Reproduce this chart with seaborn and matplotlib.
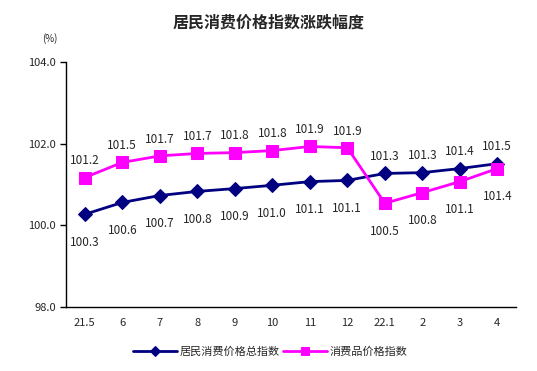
import numpy as np
import pandas as pd
import matplotlib
matplotlib.use('Agg')
import matplotlib.pyplot as plt
import seaborn as sns

# Data
months = ['21.5', '6', '7', '8', '9', '10', '11', '12', '22.1', '2', '3', '4']
cpi_total = [100.3, 100.6, 100.7, 100.8, 100.9, 101.0, 101.1, 101.1, 101.3, 101.3, 101.4, 101.5]
cpi_goods = [101.2, 101.5, 101.7, 101.7, 101.8, 101.8, 101.9, 101.9, 100.5, 100.8, 101.1, 101.4]
# plotted positions are a touch off the printed labels
total_pos = [100.27, 100.56, 100.73, 100.83, 100.9, 100.98, 101.07, 101.1, 101.27, 101.29, 101.39, 101.51]
goods_pos = [101.17, 101.54, 101.7, 101.76, 101.78, 101.83, 101.93, 101.9, 100.54, 100.8, 101.07, 101.39]
y_ticks = [98.0, 100.0, 102.0, 104.0]

sns.set_style('white')
plt.rcParams['font.family'] = ['Noto Sans CJK SC', 'DejaVu Sans']

navy = '#000080'
pink = '#ff00ff'

df = pd.DataFrame({'idx': np.arange(len(months)), 'total': total_pos, 'goods': goods_pos})

fig = plt.figure(figsize=(5.37, 3.71), dpi=100)
ax = fig.add_axes([0.123, 0.1725, 0.838, 0.6605])

sns.lineplot(data=df, x='idx', y='total', ax=ax, color=navy, marker='D', markersize=7,
             linewidth=2, markeredgecolor=navy, label='居民消费价格总指数')
sns.lineplot(data=df, x='idx', y='goods', ax=ax, color=pink, marker='s', markersize=8,
             linewidth=2, markeredgecolor=pink, label='消费品价格指数')

# value labels
for i in range(len(months)):
    if i < 8:
        t_off, g_off = -20, 12
    else:
        t_off, g_off = 12, -20
    ax.annotate(f'{cpi_total[i]:.1f}', (i, total_pos[i]), xytext=(0, t_off),
                textcoords='offset points', ha='center', va='center', fontsize=8.5)
    ax.annotate(f'{cpi_goods[i]:.1f}', (i, goods_pos[i]), xytext=(0, g_off),
                textcoords='offset points', ha='center', va='center', fontsize=8.5)

ax.set_xlim(-0.5, len(months) - 0.5)
ax.set_ylim(98, 104)
ax.set_yticks(y_ticks)
ax.set_yticklabels([f'{v:.1f}' for v in y_ticks], fontsize=8)
ax.set_xticks(np.arange(len(months)))
ax.set_xticklabels(months, fontsize=8)
ax.set_xticks(np.arange(len(months) + 1) - 0.5, minor=True)
ax.tick_params(axis='x', which='major', length=0, pad=8)
ax.tick_params(axis='x', which='minor', direction='in', length=4, width=1, color='black')
ax.tick_params(axis='y', direction='out', length=4, width=1, color='black', left=True)
ax.set_xlabel('')
ax.set_ylabel('')
for s in ['top', 'right']:
    ax.spines[s].set_visible(False)
for s in ['left', 'bottom']:
    ax.spines[s].set_color('black')
    ax.spines[s].set_linewidth(1)

fig.text(0.5, 0.94, '居民消费价格指数涨跌幅度', ha='center', va='center',
         fontsize=11.5, fontweight='bold')
fig.text(0.093, 0.897, '(%)', ha='center', va='center', fontsize=7)

leg = ax.legend(loc='center', bbox_to_anchor=(0.453, -0.184), ncol=2, frameon=False,
                fontsize=8, handlelength=4, columnspacing=0.3, handletextpad=0.2,
                markerscale=0.7)

fig.savefig('out.png', dpi=100)
